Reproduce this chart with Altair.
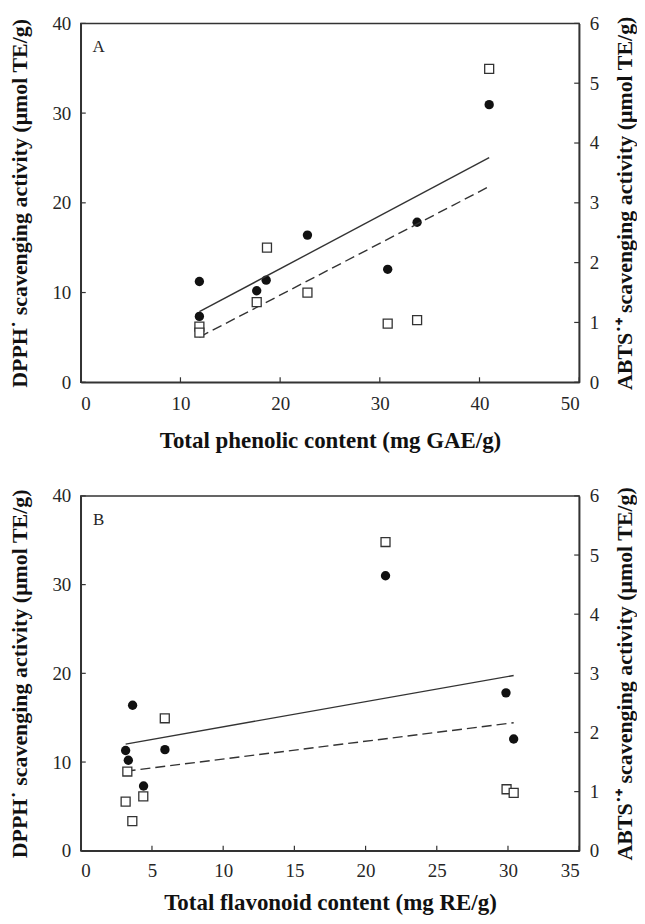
import altair as alt
import pandas as pd

# ---------------- data ----------------
# Panel A: total phenolic content (mg GAE/g)
phen_x_dpph = [11.9, 11.9, 17.65, 18.6, 22.74, 30.79, 33.74, 40.97]
phen_dpph = [11.23, 7.34, 10.2, 11.38, 16.4, 12.59, 17.83, 30.94]
phen_x_abts = [11.9, 11.9, 17.65, 18.68, 22.74, 30.79, 33.74, 40.97]
phen_abts = [0.93, 0.83, 1.34, 2.25, 1.50, 0.98, 1.04, 5.24]

# Panel B: total flavonoid content (mg RE/g)
flav_x_dpph = [3.15, 3.34, 3.64, 4.41, 5.91, 21.4, 29.86, 30.4]
flav_dpph = [11.3, 10.2, 16.4, 7.3, 11.4, 31.0, 17.8, 12.6]
flav_x_abts = [3.27, 3.15, 4.39, 3.62, 5.9, 21.4, 29.9, 30.4]
flav_abts = [1.34, 0.83, 0.92, 0.50, 2.24, 5.22, 1.04, 0.98]

phen_ticks = [0, 10, 20, 30, 40, 50]
flav_ticks = [0, 5, 10, 15, 20, 25, 30, 35]
dpph_ticks = [0, 10, 20, 30, 40]
abts_ticks = [0, 1, 2, 3, 4, 5, 6]

FONT = "Liberation Serif"
AXC = "#333333"
TXT = "#262626"


def panel(xd, yd, xa, ya, xticks, x_title, letter, W, H, xlab_pad, xtitle_pad):
    d1 = pd.DataFrame({"x": xd, "dpph": yd})
    d2 = pd.DataFrame({"x": xa, "abts": ya})
    tx = pd.DataFrame({"x": xticks})
    tl = pd.DataFrame({"dpph": dpph_ticks})
    tr = pd.DataFrame({"abts": abts_ticks})
    lab = pd.DataFrame({"label": [letter]})

    X = alt.X(
        "x:Q",
        scale=alt.Scale(domain=[xticks[0], xticks[-1]], nice=False),
        axis=alt.Axis(values=xticks, title=x_title, labelPadding=xlab_pad,
                      titlePadding=xtitle_pad, titleFontSize=23),
    )
    YL = alt.Y(
        "dpph:Q",
        scale=alt.Scale(domain=[0, 40], nice=False),
        axis=alt.Axis(orient="left", values=dpph_ticks,
                      title="DPPH˙ scavenging activity (μmol TE/g)",
                      labelPadding=10, titlePadding=20),
    )
    YR = alt.Y(
        "abts:Q",
        scale=alt.Scale(domain=[0, 6], nice=False),
        axis=alt.Axis(orient="right", values=abts_ticks,
                      title="ABTS˙⁺ scavenging activity (μmol TE/g)",
                      labelPadding=10, titlePadding=16, titleAngle=270,
                      titleBaseline="top"),
    )

    circles = alt.Chart(d1).mark_point(
        shape="circle", filled=True, size=88, color="#111111", opacity=1
    ).encode(x=X, y=YL)
    solid = alt.Chart(d1).transform_regression("x", "dpph").mark_line(
        color=AXC, strokeWidth=1.4
    ).encode(x=X, y=YL)
    xtick_rules = alt.Chart(tx).mark_rule(color=AXC, strokeWidth=1.2).encode(
        x=X, y=alt.value(H), y2=alt.value(H - 5)
    )
    ltick_rules = alt.Chart(tl).mark_rule(color=AXC, strokeWidth=1.2).encode(
        y=YL, x=alt.value(0), x2=alt.value(5)
    )
    left = alt.layer(circles, solid, xtick_rules, ltick_rules)

    squares = alt.Chart(d2).mark_point(
        shape="square", filled=False, size=81, color="#333333",
        strokeWidth=1.3, opacity=1, fill="white", fillOpacity=1
    ).encode(x=X, y=YR)
    dashed = alt.Chart(d2).transform_regression("x", "abts").mark_line(
        color=AXC, strokeWidth=1.4, strokeDash=[10, 5]
    ).encode(x=X, y=YR)
    rtick_rules = alt.Chart(tr).mark_rule(color=AXC, strokeWidth=1.2).encode(
        y=YR, x=alt.value(W - 5), x2=alt.value(W)
    )
    right = alt.layer(dashed, squares, rtick_rules)

    letter_txt = alt.Chart(lab).mark_text(
        font=FONT, fontSize=17, color=TXT, align="center", baseline="middle"
    ).encode(text="label:N", x=alt.value(18), y=alt.value(24))

    return (
        alt.layer(left, right, letter_txt)
        .resolve_scale(y="independent")
        .properties(width=W, height=H)
    )


pA = panel(phen_x_dpph, phen_dpph, phen_x_abts, phen_abts, phen_ticks,
           "Total phenolic content (mg GAE/g)", "A", 500, 360, 12, 16)
pB = panel(flav_x_dpph, flav_dpph, flav_x_abts, flav_abts, flav_ticks,
           "Total flavonoid content (mg RE/g)", "B", 500, 356, 11, 11)

chart = (
    alt.vconcat(pA, pB, spacing=32)
    .properties(padding={"left": 0, "right": 0, "top": 4, "bottom": 0})
    .configure_view(stroke=AXC, strokeWidth=1.5)
    .configure_axis(
        grid=False,
        ticks=False,
        domainColor=AXC,
        domainWidth=1.5,
        labelFont=FONT,
        labelFontSize=19,
        labelColor=TXT,
        titleFont=FONT,
        titleFontSize=22,
        titleFontWeight="bold",
        titleColor="#111111",
    )
)

chart.save("out.html", embed_options={"renderer": "svg", "actions": False})
